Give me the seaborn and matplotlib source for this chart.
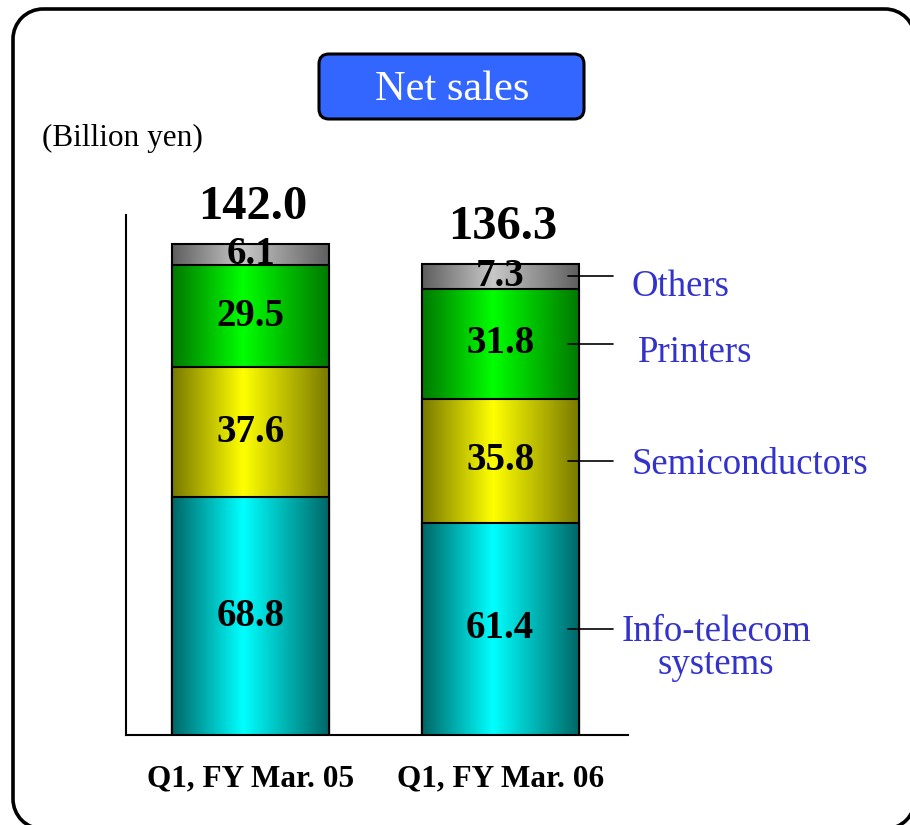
import numpy as np
import pandas as pd
import matplotlib
matplotlib.use("Agg")
import matplotlib.pyplot as plt
import seaborn as sns
from matplotlib.patches import FancyBboxPatch, Arc
from matplotlib.colors import LinearSegmentedColormap

# ---- data ----
periods = ["Q1, FY Mar. 05", "Q1, FY Mar. 06"]
segments = ["Info-telecom\nsystems", "Semiconductors", "Printers", "Others"]
info_telecom = [68.8, 61.4]
semiconductors = [37.6, 35.8]
printers = [29.5, 31.8]
others = [6.1, 7.3]
totals = [142.0, 136.3]

series = [info_telecom, semiconductors, printers, others]
bright = ["#00FFFF", "#FFFF00", "#00FF00", "#C8C8C8"]
dark = ["#006666", "#787800", "#007800", "#5E5E5E"]

sns.set_theme(style="white")
plt.rcParams["font.family"] = ["Liberation Serif", "DejaVu Serif"]
plt.rcParams["text.color"] = "black"
plt.rcParams["xtick.color"] = "black"

W, H = 910, 825
fig = plt.figure(figsize=(W / 100, H / 100), dpi=100)

# background overlay axes in pixel units (origin bottom-left)
bg = fig.add_axes([0, 0, 1, 1], zorder=-1)
bg.set_xlim(0, W)
bg.set_ylim(0, H)
bg.axis("off")

# outer rounded frame (partly cut off at right and bottom)
r = 30
fl, ft, fr, fb = 13, H - 9, 915, -4
lw_f = 2.6
bg.plot([fl + r, fr - r], [ft, ft], color="black", lw=lw_f, solid_capstyle="butt")
bg.plot([fl, fl], [ft - r, fb + r], color="black", lw=lw_f, solid_capstyle="butt")
bg.plot([fl + r, fr - r], [fb, fb], color="black", lw=lw_f, solid_capstyle="butt")
bg.plot([fr, fr], [ft - r, fb + r], color="black", lw=lw_f, solid_capstyle="butt")
for (cx, cy, a0, a1) in [(fl + r, ft - r, 90, 180), (fr - r, ft - r, 0, 90),
                         (fl + r, fb + r, 180, 270), (fr - r, fb + r, 270, 360)]:
    bg.add_patch(Arc((cx, cy), 2 * r, 2 * r, theta1=a0, theta2=a1,
                     color="black", lw=lw_f))

bg.add_patch(FancyBboxPatch((319, H - 119), 265, 65,
                            boxstyle="round,pad=0,rounding_size=10",
                            facecolor="#3366FF", edgecolor="black",
                            linewidth=2.2))
bg.text(452, H - 90, "Net sales", ha="center", va="center",
        fontsize=30.5, color="white")
bg.text(42, H - 138, "(Billion yen)", ha="left", va="center",
        fontsize=22.5, color="black")

ax = fig.add_axes([126 / W, 90 / H, 502 / W, 520 / H])

# cumulative heights (stacked via overlay, tallest drawn first)
cum = np.cumsum(np.array(series), axis=0)
bar_w = 0.63
base_z = 2
for layer, k in enumerate(range(len(series) - 1, -1, -1)):
    df = pd.DataFrame({"period": periods, "value": cum[k]})
    n_before = len(ax.patches)
    sns.barplot(data=df, x="period", y="value", color=bright[k], width=bar_w,
                edgecolor="black", linewidth=1.5, ax=ax, saturation=1)
    new = ax.patches[n_before:]
    cmap = LinearSegmentedColormap.from_list(
        f"g{k}", [(0, dark[k]), (0.45, bright[k]), (1, dark[k])])
    grad = np.linspace(0, 1, 256).reshape(1, -1)
    for p in new:
        x0, y0 = p.get_x(), p.get_y()
        w, h = p.get_width(), p.get_height()
        p.set_facecolor("none")
        p.set_zorder(base_z + layer * 3 + 2)
        im = ax.imshow(grad, cmap=cmap, aspect="auto",
                       extent=(x0, x0 + w, y0, y0 + h),
                       zorder=base_z + layer * 3 + 1, interpolation="bilinear")
        im.set_clip_path(p)

# segment value labels
for k in range(len(series)):
    for i in range(len(periods)):
        bottom = cum[k][i] - series[k][i]
        ax.text(i, bottom + series[k][i] / 2, f"{series[k][i]:.1f}",
                ha="center", va="center", fontsize=28, fontweight="bold",
                color="black", zorder=50)

# totals
for i in range(len(periods)):
    ax.text(i + 0.01, totals[i] + 4.3, f"{totals[i]:.1f}", ha="center",
            va="bottom", fontsize=35, fontweight="bold", color="black", zorder=50)

# leader lines and segment names next to second bar
text_x = [1.866, 1.529, 1.553, 1.529]
text_dy = [-5.6, -1.2, -2.6, -2.9]
text_ha = ["center", "left", "left", "left"]
for k in range(len(series)):
    i = 1
    mid = cum[k][i] - series[k][i] / 2
    ax.plot([1.273, 1.453], [mid, mid], color="black",
            lw=1.2, clip_on=False, zorder=60)
    ax.text(text_x[k], mid + text_dy[k], segments[k], ha=text_ha[k],
            va="center", fontsize=26.5, color="#3333CC", clip_on=False,
            linespacing=0.97, multialignment="center", zorder=60)

ax.set_xlim(-0.5, 1.513)
ax.set_ylim(0, 150.4)
ax.set_ylabel("")
ax.set_xlabel("")
ax.set_yticks([])
ax.tick_params(axis="x", length=0, pad=21, colors="black")
for lab in ax.get_xticklabels():
    lab.set_fontweight("bold")
    lab.set_fontsize(22.5)
    lab.set_color("black")
for s in ["top", "right"]:
    ax.spines[s].set_visible(False)
for s in ["left", "bottom"]:
    ax.spines[s].set_color("black")
    ax.spines[s].set_linewidth(1.5)
ax.patch.set_alpha(0)

fig.savefig("out.png", dpi=100, facecolor="white")
